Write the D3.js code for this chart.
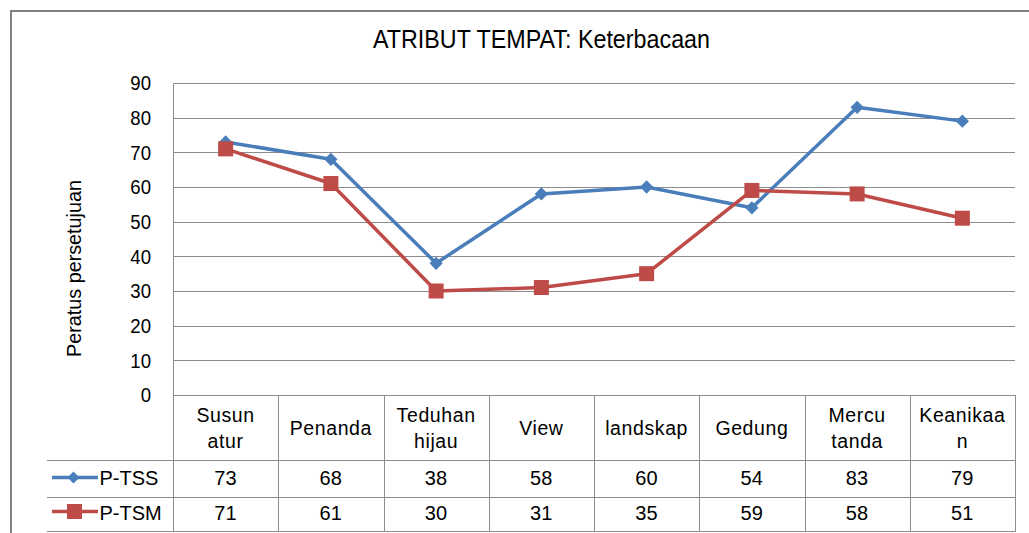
<!DOCTYPE html>
<html><head><meta charset="utf-8">
<script src="https://cdn.jsdelivr.net/npm/d3@7"></script>
<style>
html,body{margin:0;padding:0;background:#fff;}
svg{display:block;}
text{font-family:"Liberation Sans",Arial,sans-serif;fill:#000;}
</style></head>
<body>
<svg id="c" width="1029" height="533"></svg>
<script>
const categories = [["Susun","atur"],["Penanda"],["Teduhan","hijau"],["View"],["landskap"],["Gedung"],["Mercu","tanda"],["Keanikaa","n"]];
const seriesNames = ["P-TSS","P-TSM"];
const ptss = [73,68,38,58,60,54,83,79];
const ptsm = [71,61,30,31,35,59,58,51];
const yTicks = [0,10,20,30,40,50,60,70,80,90];
const title = "ATRIBUT TEMPAT: Keterbacaan";
const yTitle = "Peratus persetujuan";

const colors = ["#4a7ebb","#be4b48"];
const gridColor = "#8c8c8c";
const svg = d3.select("#c");
const L = 173, R = 1015, T = 83, B = 395;
const x = d3.scaleBand().domain(d3.range(categories.length)).range([L,R]);
const y = d3.scaleLinear().domain([0,90]).range([B,T]);
const cx = i => x(i)+x.bandwidth()/2;

function condense(sel, f){
  sel.each(function(){
    const w = this.getComputedTextLength();
    this.setAttribute("textLength", w*f);
    this.setAttribute("lengthAdjust","spacingAndGlyphs");
  });
}

// outer border
svg.append("rect").attr("x",11).attr("y",11).attr("width",1040).attr("height",540)
  .attr("fill","none").attr("stroke","#808080").attr("stroke-width",2);

// title
svg.append("text").attr("x",541.5).attr("y",47.5).attr("text-anchor","middle")
  .style("font-size","26px").attr("textLength",337).attr("lengthAdjust","spacingAndGlyphs").text(title);

// gridlines
svg.append("g").selectAll("line").data(yTicks).join("line")
  .attr("x1",L).attr("x2",R).attr("y1",d=>Math.round(y(d))+0.5).attr("y2",d=>Math.round(y(d))+0.5)
  .attr("stroke",gridColor).attr("stroke-width",1);
// plot left border
svg.append("line").attr("x1",L+0.5).attr("x2",L+0.5).attr("y1",T).attr("y2",532).attr("stroke",gridColor);

// y tick labels
svg.append("g").selectAll("text").data(yTicks).join("text")
  .attr("x",151).attr("y",d=>y(d)+7.3).attr("text-anchor","end")
  .style("font-size","20px").text(d=>d).call(condense,0.93);

// y title
svg.append("text").attr("transform","translate(81,268.5) rotate(-90)").attr("text-anchor","middle")
  .style("font-size","20px").attr("textLength",177).attr("lengthAdjust","spacingAndGlyphs").text(yTitle);

// table
const rowY = [395,460,497,531];
const tbl = svg.append("g");
tbl.selectAll("line.h").data(rowY.slice(1)).join("line")
  .attr("x1",47).attr("x2",R).attr("y1",d=>d+0.5).attr("y2",d=>d+0.5).attr("stroke",gridColor);
tbl.selectAll("line.v").data(d3.range(categories.length+1)).join("line")
  .attr("x1",i=>Math.round(L+i*x.bandwidth())+0.5).attr("x2",i=>Math.round(L+i*x.bandwidth())+0.5)
  .attr("y1",B).attr("y2",532).attr("stroke",gridColor);
categories.forEach((c,i)=>{
  const t = tbl.append("text").attr("text-anchor","middle").style("font-size","19.5px").style("letter-spacing","0.6px");
  if(c.length===1){
    t.append("tspan").attr("x",cx(i)).attr("y",435).text(c[0]);
  } else {
    t.append("tspan").attr("x",cx(i)).attr("y",421.5).text(c[0]);
    t.append("tspan").attr("x",cx(i)).attr("y",448).text(c[1]);
  }
});
[ptss,ptsm].forEach((vals,r)=>{
  const by = r===0 ? 484.5 : 520;
  tbl.append("g").selectAll("text").data(vals).join("text")
    .attr("x",(d,i)=>cx(i)).attr("y",by).attr("text-anchor","middle")
    .style("font-size","20px").style("letter-spacing","0.3px").text(d=>d);
  // legend key
  const ly = r===0 ? 477.5 : 511.5;
  tbl.append("line").attr("x1",52).attr("x2",98).attr("y1",ly).attr("y2",ly)
    .attr("stroke",colors[r]).attr("stroke-width",3.5);
  if(r===0){
    tbl.append("path").attr("d",d3.symbol(d3.symbolSquare,72)())
      .attr("transform",`translate(73.5,${ly}) rotate(45)`).attr("fill",colors[r]);
  } else {
    tbl.append("rect").attr("x",67).attr("y",ly-7.5).attr("width",15).attr("height",15).attr("fill",colors[r]);
  }
  tbl.append("text").attr("x",99.5).attr("y",by).style("font-size","20px").text(seriesNames[r]);
});

// lines
const line = d3.line().x((d,i)=>cx(i)).y(d=>y(d));
[ptss,ptsm].forEach((vals,r)=>{
  svg.append("path").datum(vals).attr("d",line).attr("fill","none")
    .attr("stroke",colors[r]).attr("stroke-width",3.5).attr("stroke-linejoin","round");
});
// markers
svg.append("g").selectAll("path").data(ptss).join("path")
  .attr("d",d3.symbol(d3.symbolSquare,88)())
  .attr("transform",(d,i)=>`translate(${cx(i)},${y(d)}) rotate(45)`)
  .attr("fill",colors[0]);
svg.append("g").selectAll("rect").data(ptsm).join("rect")
  .attr("x",(d,i)=>cx(i)-7.5).attr("y",d=>y(d)-7.5).attr("width",15).attr("height",15)
  .attr("fill",colors[1]);
</script>
</body></html>
